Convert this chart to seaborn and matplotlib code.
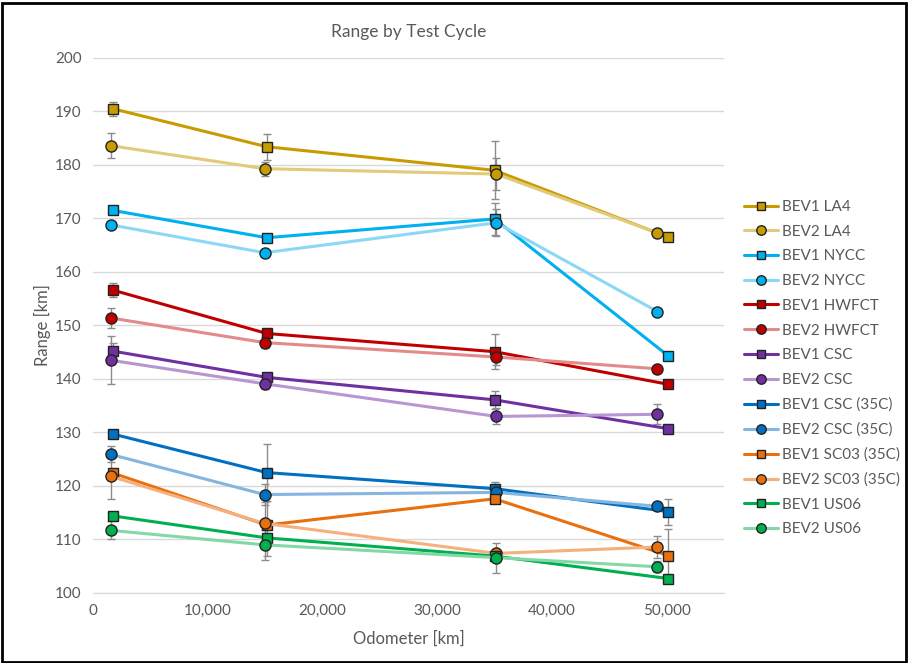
import numpy as np
import pandas as pd
import matplotlib.pyplot as plt
import seaborn as sns
from matplotlib.patches import Rectangle

sns.set_style("white")
plt.rcParams['font.family'] = ['Lato', 'DejaVu Sans']

# odometer readings [km]
odo_bev1 = [1750, 15150, 35000, 50150]
odo_bev2 = [1550, 14950, 35150, 49200]

cycles = ["LA4", "NYCC", "HWFCT", "CSC", "CSC (35C)", "SC03 (35C)", "US06"]

# range [km] per cycle: BEV1 / BEV2
bev1_range = {
    "LA4":        [190.5, 183.4, 179.0, 166.5],
    "NYCC":       [171.5, 166.4, 169.9, 144.3],
    "HWFCT":      [156.6, 148.5, 145.1, 139.0],
    "CSC":        [145.2, 140.3, 136.1, 130.7],
    "CSC (35C)":  [129.7, 122.5, 119.5, 115.2],
    "SC03 (35C)": [122.4, 112.7, 117.6, 107.0],
    "US06":       [114.4, 110.3, 106.9, 102.7],
}
bev2_range = {
    "LA4":        [183.6, 179.3, 178.3, 167.3],
    "NYCC":       [168.8, 163.6, 169.2, 152.6],
    "HWFCT":      [151.4, 146.8, 144.1, 141.9],
    "CSC":        [143.5, 139.1, 133.0, 133.4],
    "CSC (35C)":  [125.9, 118.4, 118.8, 116.2],
    "SC03 (35C)": [121.8, 113.0, 107.4, 108.6],
    "US06":       [111.7, 109.0, 106.6, 104.9],
}
# error bar half-widths [km]
bev1_err = {
    "LA4":        [1.3, 2.4, 5.4, 0.0],
    "NYCC":       [0.0, 0.0, 3.0, 0.0],
    "HWFCT":      [1.3, 0.0, 3.3, 0.0],
    "CSC":        [1.5, 0.0, 1.7, 0.0],
    "CSC (35C)":  [0.0, 5.4, 1.3, 2.4],
    "SC03 (35C)": [0.0, 5.8, 0.0, 5.0],
    "US06":       [0.0, 0.0, 0.0, 0.0],
}
bev2_err = {
    "LA4":        [2.3, 1.3, 3.0, 0.0],
    "NYCC":       [0.0, 0.0, 2.5, 0.0],
    "HWFCT":      [1.8, 1.0, 1.5, 0.0],
    "CSC":        [4.5, 1.0, 1.5, 1.9],
    "CSC (35C)":  [1.5, 2.0, 0.0, 0.0],
    "SC03 (35C)": [4.3, 4.0, 0.0, 2.0],
    "US06":       [1.7, 2.8, 2.8, 1.0],
}

dark_colors = ["#C89B00", "#00B0F0", "#C00000", "#7030A0", "#0070C0", "#E8700E", "#00B050"]
light_colors = ["#E3C97A", "#8AD8F6", "#E38A8A", "#B896D2", "#86B6E0", "#F5B07E", "#84D8A6"]

fig = plt.figure(figsize=(9.08, 6.63), dpi=100)
ax = fig.add_axes([0.1024, 0.1056, 0.695, 0.807])

for i, c in enumerate(cycles):
    for bev, odo, vals, errs, lc, mk in [
        ("BEV1", odo_bev1, bev1_range, bev1_err, dark_colors[i], "s"),
        ("BEV2", odo_bev2, bev2_range, bev2_err, light_colors[i], "o"),
    ]:
        e = np.array(errs[c])
        ax.errorbar(odo, vals[c], yerr=np.where(e > 0, e, np.nan), fmt="none",
                    ecolor="#8C8C8C", elinewidth=1, capsize=3, capthick=1, zorder=1)
        df = pd.DataFrame({"odo": odo, "range": vals[c]})
        sns.lineplot(data=df, x="odo", y="range", ax=ax, color=lc, linewidth=2.2,
                     marker=mk, markersize=7.5 if mk == "s" else 8,
                     markerfacecolor=dark_colors[i], markeredgecolor="#222222",
                     markeredgewidth=1, label=f"{bev} {c}", zorder=3)

ax.set_xlim(0, 55000)
ax.set_ylim(100, 200)
ax.set_yticks(range(100, 201, 10))
ax.set_xticks(range(0, 50001, 10000))
ax.set_xticklabels([f"{v:,}" for v in range(0, 50001, 10000)])
ax.grid(axis="y", color="#D9D9D9", linewidth=1)
ax.grid(axis="x", visible=False)
for s in ["top", "right", "left"]:
    ax.spines[s].set_visible(False)
ax.spines["bottom"].set_color("#D9D9D9")
ax.tick_params(axis="both", colors="#595959", labelsize=11, length=0, pad=8)
ax.set_xlabel("Odometer [km]", color="#595959", fontsize=12, labelpad=9)
ax.set_ylabel("Range [km]", color="#595959", fontsize=12, labelpad=3)
ax.set_title("Range by Test Cycle", color="#595959", fontsize=12.5, pad=15)

ax.legend(loc="center left", bbox_to_anchor=(1.01, 0.42), frameon=False,
          fontsize=11, labelcolor="#595959", handlelength=2.2, handletextpad=0.3,
          labelspacing=0.7, markerscale=0.85)

fig.patches.append(Rectangle((0.002, 0.002), 0.996, 0.994, transform=fig.transFigure,
                             fill=False, edgecolor="black", linewidth=2))

fig.savefig("out.png", dpi=100)
